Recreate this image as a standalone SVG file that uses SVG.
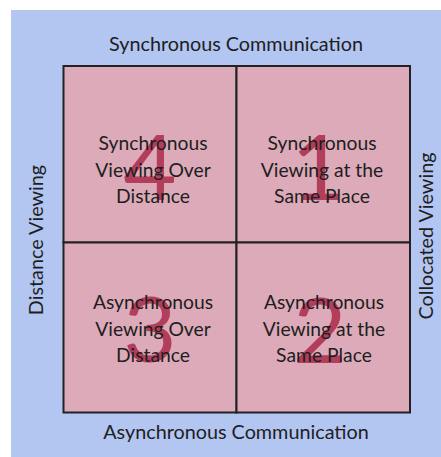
<svg xmlns="http://www.w3.org/2000/svg" width="441" height="457" viewBox="0 0 441 457">
<style>
.lbl{font-family:"Lato","Liberation Sans",sans-serif;font-size:19.8px;fill:#1e1e1e;text-anchor:middle}
.q{font-family:"Lato","Liberation Sans",sans-serif;font-size:19.3px;fill:#1e1e1e;text-anchor:middle}
.num{font-family:"Lato","Liberation Sans",sans-serif;font-size:92px;fill:#a82648;fill-opacity:0.82;text-anchor:middle}
.cell{fill:#dcaab9;stroke:#222;stroke-width:2}
</style>
<rect x="11" y="10" width="430" height="447" fill="#b3c5f1"/>
<text class="lbl" x="236" y="51">Synchronous Communication</text>
<text class="lbl" x="236" y="439">Asynchronous Communication</text>
<text class="lbl" transform="translate(43,240) rotate(-90)">Distance Viewing</text>
<text class="lbl" transform="translate(433,236) rotate(-90)">Collocated Viewing</text>
<g id="q4">
<rect class="cell" x="63.5" y="66" width="173" height="176.5"/>
<text class="num" x="150" y="200">4</text>
<text class="q" x="153" y="150">Synchronous</text>
<text class="q" x="153" y="177">Viewing Over</text>
<text class="q" x="153" y="203">Distance</text>
</g>
<g id="q1">
<rect class="cell" x="236.5" y="66" width="173.5" height="176.5"/>
<text class="num" x="318" y="200">1</text>
<text class="q" x="322" y="150">Synchronous</text>
<text class="q" x="322" y="177">Viewing at the</text>
<text class="q" x="322" y="203">Same Place</text>
</g>
<g id="q3">
<rect class="cell" x="63.5" y="242.5" width="173" height="170"/>
<text class="num" x="150" y="362">3</text>
<text class="q" x="153" y="309">Asynchronous</text>
<text class="q" x="153" y="336">Viewing Over</text>
<text class="q" x="153" y="362">Distance</text>
</g>
<g id="q2">
<rect class="cell" x="236.5" y="242.5" width="173.5" height="170"/>
<text class="num" x="320" y="363">2</text>
<text class="q" x="324" y="309">Asynchronous</text>
<text class="q" x="324" y="336">Viewing at the</text>
<text class="q" x="324" y="362">Same Place</text>
</g>
</svg>
